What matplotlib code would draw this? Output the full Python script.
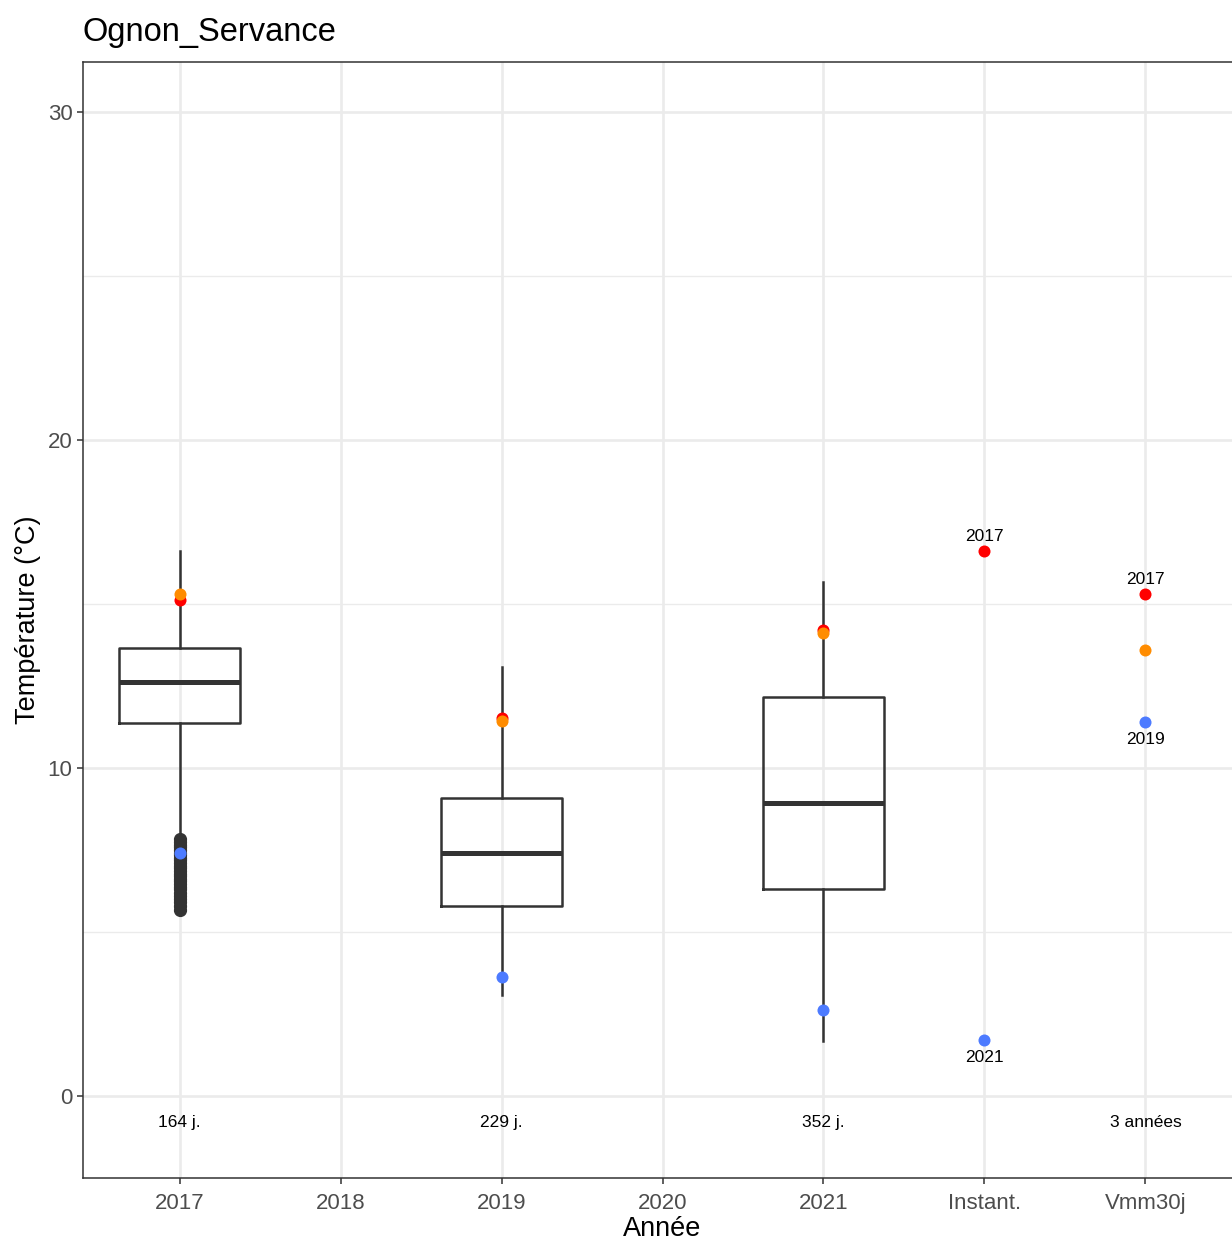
import matplotlib
matplotlib.use("Agg")
import matplotlib.pyplot as plt

plt.rcParams['font.family'] = ['Liberation Sans', 'DejaVu Sans']

# categories on x axis
x_labels = ['2017', '2018', '2019', '2020', '2021', 'Instant.', 'Vmm30j']

# boxplot stats per year
box_years = [1, 3, 5]
box_whislo = [7.8, 3.08, 1.68]
box_q1 = [11.37, 5.79, 6.31]
box_med = [12.62, 7.41, 8.93]
box_q3 = [13.66, 9.09, 12.16]
box_whishi = [16.62, 13.08, 15.67]
outliers_2017 = [7.82, 7.74, 7.66, 7.58, 7.5, 7.42, 7.34, 7.26, 7.18, 7.1, 7.02,
                 6.94, 6.86, 6.78, 6.7, 6.62, 6.54, 6.46, 6.38, 6.3, 6.2, 6.1,
                 6.0, 5.9, 5.8, 5.67]
n_days = ['164 j.', '229 j.', '352 j.']

# coloured markers: max instant (red), max Vmm30j (orange), min (blue)
red_x = [1, 3, 5, 6, 7]
red_y = [15.12, 11.52, 14.2, 16.62, 15.3]
orange_x = [1, 3, 5, 7]
orange_y = [15.3, 11.43, 14.12, 13.6]
blue_x = [1, 3, 5, 6, 7]
blue_y = [7.41, 3.63, 2.62, 1.71, 11.4]

fig = plt.figure(figsize=(12.32, 12.41), dpi=100)
ax = fig.add_axes([83/1232, (1241-1178)/1241, 1159/1232, (1178-62)/1241])

# grid
for y in [5, 15, 25]:
    ax.axhline(y, color='#EBEBEB', lw=1.0, zorder=0)
for y in [0, 10, 20, 30]:
    ax.axhline(y, color='#EBEBEB', lw=1.9, zorder=0)
for x in range(1, 8):
    ax.axvline(x, color='#EBEBEB', lw=1.9, zorder=0)

stats = []
for i in range(len(box_years)):
    stats.append(dict(whislo=box_whislo[i], q1=box_q1[i], med=box_med[i],
                      q3=box_q3[i], whishi=box_whishi[i],
                      fliers=outliers_2017 if i == 0 else []))
ax.bxp(stats, positions=box_years, widths=0.75, showcaps=False,
       boxprops=dict(color='#333333', lw=1.8),
       whiskerprops=dict(color='#333333', lw=1.8),
       medianprops=dict(color='#333333', lw=3.6),
       flierprops=dict(marker='o', markerfacecolor='#333333',
                       markeredgecolor='#333333', markersize=8.5),
       zorder=2)

ax.scatter(red_x, red_y, s=75, color='#FF0000', zorder=3, lw=0)
ax.scatter(orange_x, orange_y, s=75, color='#FF8C00', zorder=4, lw=0)
ax.scatter(blue_x, blue_y, s=75, color='#4D7BFF', zorder=5, lw=0)

# labels of the extreme years
ax.text(6, red_y[3] + 0.22, '2017', ha='center', va='bottom', fontsize=12.5)
ax.text(6, blue_y[3] - 0.3, '2021', ha='center', va='top', fontsize=12.5)
ax.text(7, red_y[4] + 0.22, '2017', ha='center', va='bottom', fontsize=12.5)
ax.text(7, blue_y[4] - 0.3, '2019', ha='center', va='top', fontsize=12.5)

for x, t in zip(box_years, n_days):
    ax.text(x, -0.8, t, ha='center', va='center', fontsize=12.5)
ax.text(7, -0.8, '3 années', ha='center', va='center', fontsize=12.5)

ax.set_xlim(0.4, 7.6)
ax.set_ylim(-2.5, 31.52)
ax.set_xticks(range(1, 8))
ax.set_xticklabels(x_labels)
ax.set_yticks([0, 10, 20, 30])
ax.set_yticklabels(['0', '10', '20', '30'])
ax.tick_params(axis='both', labelsize=16, labelcolor='#4D4D4D', color='#333333',
               length=4.5, width=1.1, pad=3)
ax.tick_params(axis='x', pad=6)
for s in ax.spines.values():
    s.set_color('#333333')
    s.set_linewidth(1.1)

ax.set_xlabel('Année', fontsize=19.5, labelpad=1.5)
ax.set_ylabel('Température (°C)', fontsize=19.5, labelpad=5)
ax.set_title('Ognon_Servance', fontsize=23.5, loc='left', pad=15)

fig.savefig('out.png', dpi=100)
